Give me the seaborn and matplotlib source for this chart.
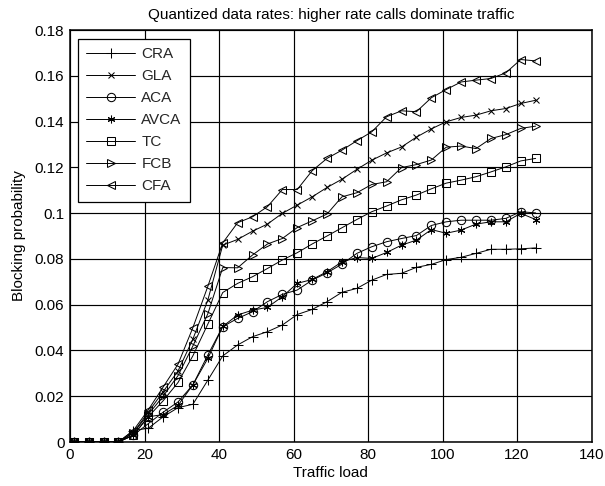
import numpy as np
import pandas as pd
import matplotlib
matplotlib.use("Agg")
import matplotlib.pyplot as plt
import seaborn as sns

traffic = [1, 5, 9, 13, 17, 21, 25, 29, 33, 37, 41, 45, 49, 53, 57, 61, 65, 69,
           73, 77, 81, 85, 89, 93, 97, 101, 105, 109, 113, 117, 121, 125]

cra = [0, 0, 0, 0, 0.005, 0.006, 0.011, 0.015, 0.0165, 0.027, 0.0376, 0.0424, 0.046,
       0.0482, 0.0511, 0.0557, 0.0579, 0.0613, 0.0654, 0.0671, 0.0707, 0.0732, 0.0737,
       0.0763, 0.0776, 0.0797, 0.0807, 0.0824, 0.0842, 0.0842, 0.0844, 0.0848]
gla = [0, 0, 0, 0, 0.004, 0.013, 0.022, 0.031, 0.045, 0.062, 0.086, 0.0885, 0.0921,
       0.0952, 0.0999, 0.1035, 0.1071, 0.1112, 0.1148, 0.1191, 0.1231, 0.1263, 0.1289,
       0.1332, 0.1368, 0.1399, 0.1418, 0.1428, 0.1447, 0.1457, 0.1479, 0.1493]
aca = [0, 0, 0, 0, 0.003, 0.008, 0.013, 0.0175, 0.025, 0.038, 0.0504, 0.054, 0.0569,
       0.0613, 0.0645, 0.0664, 0.0707, 0.0739, 0.0777, 0.0824, 0.0853, 0.0875, 0.0889,
       0.0902, 0.0946, 0.0962, 0.0969, 0.0969, 0.0969, 0.0977, 0.1006, 0.1001]
avca = [0, 0, 0, 0, 0.003, 0.011, 0.012, 0.016, 0.025, 0.0365, 0.0505, 0.0555, 0.0576,
        0.0588, 0.0635, 0.0693, 0.0710, 0.0744, 0.0787, 0.0806, 0.0802, 0.0828, 0.0860,
        0.0882, 0.0928, 0.0912, 0.0926, 0.0952, 0.0962, 0.0962, 0.0999, 0.0972]
tc = [0, 0, 0, 0, 0.003, 0.011, 0.018, 0.026, 0.0377, 0.0515, 0.0653, 0.0693, 0.0722,
      0.0758, 0.0795, 0.0827, 0.0865, 0.0900, 0.0936, 0.0972, 0.1006, 0.1031, 0.1058,
      0.1079, 0.1106, 0.1131, 0.1144, 0.1159, 0.1180, 0.1202, 0.1228, 0.1239]
fcb = [0, 0, 0, 0, 0.004, 0.012, 0.020, 0.029, 0.042, 0.056, 0.0762, 0.0761, 0.0817,
       0.0865, 0.0889, 0.0937, 0.0966, 0.0996, 0.1071, 0.1089, 0.1125, 0.1137, 0.1199,
       0.1212, 0.1232, 0.1288, 0.1293, 0.1282, 0.1326, 0.1343, 0.1370, 0.1380]
cfa = [0, 0, 0, 0, 0.005, 0.014, 0.024, 0.034, 0.050, 0.068, 0.087, 0.0958, 0.0984,
       0.1028, 0.1103, 0.1103, 0.1185, 0.1239, 0.1275, 0.1316, 0.1355, 0.1421, 0.1447,
       0.1443, 0.1504, 0.1540, 0.1573, 0.1581, 0.1588, 0.1613, 0.1671, 0.1665]

series_names = ["CRA", "GLA", "ACA", "AVCA", "TC", "FCB", "CFA"]
series_values = [cra, gla, aca, avca, tc, fcb, cfa]
series_markers = ["+", "x", "o", (6, 2, 0), "s", ">", "<"]
marker_sizes = [7, 3.8, 6, 5.5, 5.8, 6, 6]

xticks = [0, 20, 40, 60, 80, 100, 120, 140]
yticks = [0, 0.02, 0.04, 0.06, 0.08, 0.1, 0.12, 0.14, 0.16, 0.18]
ytick_labels = ["0", "0.02", "0.04", "0.06", "0.08", "0.1", "0.12", "0.14", "0.16", "0.18"]

sns.set_theme(style="white")
plt.rcParams["font.family"] = ["Liberation Sans", "DejaVu Sans"]
FS = 11

fig = plt.figure(figsize=(6.05, 4.86), dpi=100)
ax = fig.add_axes([70 / 605, 1 - 442 / 486, 521.5 / 605, 412 / 486])

for name, vals, mk, ms in zip(series_names, series_values, series_markers, marker_sizes):
    df = pd.DataFrame({"Traffic load": traffic, "Blocking probability": vals})
    sns.lineplot(data=df, x="Traffic load", y="Blocking probability", ax=ax,
                 color="black", linewidth=0.7, marker=mk, markersize=ms,
                 markerfacecolor="none", markeredgecolor="black",
                 markeredgewidth=0.75, label=name)

ax.set_xlim(0, 140)
ax.set_ylim(0, 0.18)
ax.set_xticks(xticks)
ax.set_xticklabels([str(t) for t in xticks])
ax.set_yticks(yticks)
ax.set_yticklabels(ytick_labels)
ax.grid(True, color="black", linewidth=0.85, linestyle="-")
ax.set_axisbelow(True)
for sp in ax.spines.values():
    sp.set_color("black")
    sp.set_linewidth(1.1)
ax.tick_params(direction="in", length=4, color="black", labelsize=FS,
               labelcolor="black", pad=4)

ax.set_xlabel("Traffic load", fontsize=FS, color="black", labelpad=3)
ax.set_ylabel("Blocking probability", fontsize=FS, color="black", labelpad=6)
ax.set_title("Quantized data rates: higher rate calls dominate traffic",
             fontsize=FS, color="black", pad=8)

leg = ax.legend(loc="upper left", bbox_to_anchor=(0.0153, 0.978), borderaxespad=0,
                fancybox=False, shadow=False, framealpha=1, edgecolor="black",
                fontsize=FS, handlelength=3.2, handletextpad=0.4,
                labelspacing=0.52, borderpad=0.55)
leg.get_frame().set_linewidth(0.9)

fig.savefig("out.png", dpi=100)
